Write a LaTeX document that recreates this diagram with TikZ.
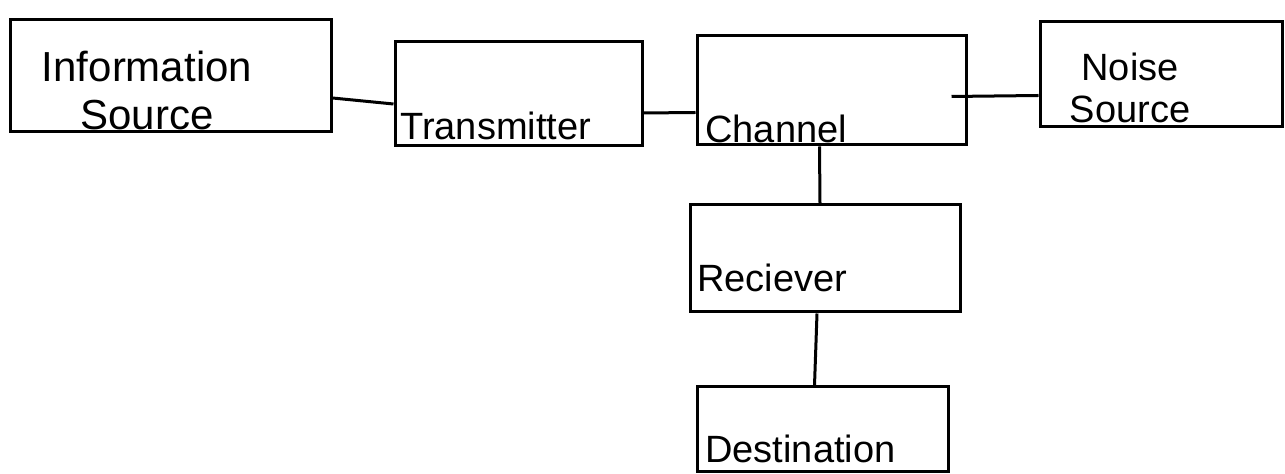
\documentclass[tikz,border=0pt]{standalone}
\usepackage{fontspec}
\setmainfont{Liberation Sans}
\begin{document}
\begin{tikzpicture}[x=0.5pt,y=-0.5pt,
  box/.style={draw, line width=1.5pt, inner sep=0pt},
  lbl/.style={inner sep=0pt, font=\fontsize{19}{21}\selectfont},
  link/.style={line width=1.5pt}]
\useasboundingbox[fill=white] (0,0) rectangle (1285,474);
% boxes
\node[box, minimum width=160.5pt, minimum height=56pt] (info) at (170.5,76) {};
\node[box, minimum width=123.5pt, minimum height=52pt] (trans) at (518.5,94) {};
\node[box, minimum width=134.5pt, minimum height=54.5pt] (chan) at (831.5,90.5) {};
\node[box, minimum width=121pt, minimum height=52.5pt] (noise) at (1161,74.5) {};
\node[box, minimum width=135pt, minimum height=53.5pt] (rec) at (825,258.5) {};
\node[box, minimum width=125.5pt, minimum height=42.5pt] (dest) at (822.5,429.5) {};
% labels
\node[lbl, align=center, font=\fontsize{21}{24}\selectfont] (infol) at (147,90) {Information\\Source};
\node[lbl, anchor=base west] (transl) at (400,140) {Transmitter};
\node[lbl, anchor=base west] (chanl) at (705,143) {Channel};
\node[lbl, align=center] (noisel) at (1130,88) {Noise\\Source};
\node[lbl, anchor=base west] (recl) at (697,292) {Reciever};
\node[lbl, anchor=base west] (destl) at (705,463) {Destination};
% connectors
\draw[link] ([yshift=-11pt]info.east) -- ([yshift=-5pt]trans.west);
\draw[link] ([yshift=-9.5pt]trans.east) -- ([yshift=-11pt]chan.west);
\draw[link] ([xshift=-8pt,yshift=-3pt]chan.east) -- ([yshift=-10.5pt]noise.west);
\draw[link] ([xshift=-6pt]chan.south) -- ([xshift=-2.5pt]rec.north);
\draw[link] ([xshift=-4pt]rec.south) -- ([xshift=-4pt]dest.north);
\end{tikzpicture}
\end{document}
